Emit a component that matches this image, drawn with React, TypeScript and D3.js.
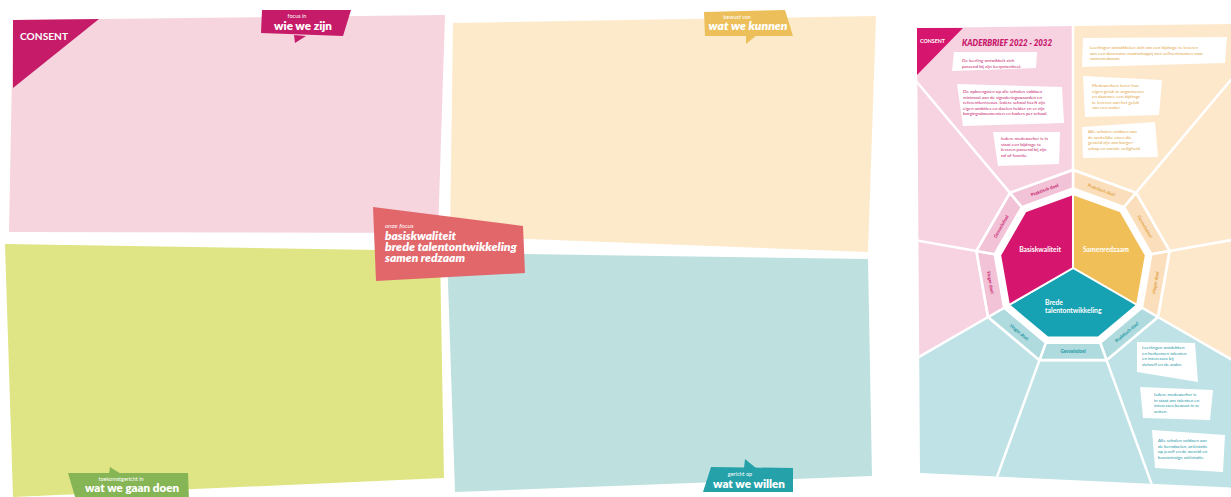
import React from "react";
import * as d3 from "d3";

const W = 1231;
const H = 497;
const FONT = "Lato, 'Open Sans', sans-serif";

// ---------------- left board: content ----------------
const brand = "CONSENT";
const quadrantFills = ["#f6d5df", "#fdeacb", "#dfe584", "#bee1df"];
const tagSmallText = ["focus in", "bewust van", "toekomstgericht in", "gericht op"];
const tagBigText = ["wie we zijn", "wat we kunnen", "wat we gaan doen", "wat we willen"];
const tagFills = ["#c51b69", "#ecbf5a", "#86b555", "#25a2a9"];
const tagItalic = [false, true, false, false];
const focusTitle = "onze focus";
const focusLines = ["basiskwaliteit", "brede talentontwikkeling", "samen redzaam"];
const focusFill = "#e2676b";

// ---------------- left board: layout ----------------
type P = [number, number];
const quadrantShapes: P[][] = [
  [[13, 20], [445, 15], [438, 233], [9, 232]],
  [[453, 23], [876, 16], [868, 252], [450, 236]],
  [[5, 244], [440, 251], [444, 478], [13, 497]],
  [[447, 253], [868, 259], [872, 476], [455, 492]],
];
const tagShapes: P[][] = [
  [[262, 10], [351, 10], [343, 36], [261, 33]],
  [[704, 12], [785, 10], [793, 36], [705, 36]],
  [[68, 473], [188, 473], [189, 500], [76, 500]],
  [[711, 467], [793, 468], [793, 492], [703, 492]],
];
const tagTails: P[][] = [
  [[294, 35], [295, 43], [306, 36]],
  [[746, 35], [746, 44], [757, 35]],
  [[109, 474], [110, 467], [121, 474]],
  [[744, 468], [745, 459], [756, 468]],
];
// [cx small, baseline small, cx big, baseline big, big width]
const tagText: number[][] = [
  [297, 18, 303, 29.5, 58],
  [737, 19, 748, 30, 79],
  [121, 480.5, 132, 492, 94],
  [740, 475.5, 749, 487.5, 72],
];
const focusShape: P[] = [[373, 207], [523, 226], [525, 273], [376, 281]];

// ---------------- right poster: content ----------------
const posterTitle = "KADERBRIEF 2022 - 2032";
const coreNames = [["Samenredzaam"], ["Brede", "talentontwikkeling"], ["Basiskwaliteit"]];
const coreFills = ["#f1bf58", "#17a2b3", "#d6166e"];
const sectorFills = ["#fde8cc", "#bfe2e6", "#f7d3e2"];
const ringFills = ["#fbdfbd", "#afdade", "#f2c3d7"];
const groupTextFills = ["#e2a544", "#1b97a5", "#c8196c"];
const ringLabels = [
  "Praktisch doel", "Gevoelsdoel", "Hoger doel",
  "Praktisch doel", "Gevoelsdoel", "Hoger doel",
  "Hoger doel", "Gevoelsdoel", "Praktisch doel",
];
const boxTexts: string[][] = [
  ["De leerling ontwikkelt zich", "passend bij zijn leerpotentieel."],
  [
    "De opbrengsten op alle scholen voldoen",
    "minimaal aan de signaleringswaarden en",
    "referentieniveaus. Iedere school heeft zijn",
    "eigen ambities en doelen helder en er zijn",
    "borgingsdocumenten en kaders per school.",
  ],
  ["Iedere medewerker is in", "staat een bijdrage te", "leveren passend bij zijn", "rol of functie."],
  [
    "Leerlingen ontwikkelen zich om een bijdrage te leveren",
    "aan een duurzame maatschappij met zelfvertrouwen voor",
    "samenredzaam.",
  ],
  ["Medewerkers leren hun", "eigen geluk te organiseren", "en daarmee een bijdrage", "te leveren aan het geluk", "van een ander."],
  ["Alle scholen voldoen aan", "de wettelijke eisen die", "gesteld zijn aan burger-", "schap en sociale veiligheid."],
  ["Leerlingen ontdekken", "en herkennen talenten", "en interesses bij", "zichzelf en de ander."],
  ["Iedere medewerker is", "in staat om talenten en", "interesses bewust in te", "zetten."],
  ["Alle scholen voldoen aan", "de kerndoelen, oriëntatie", "op jezelf en de wereld en", "kunstzinnige oriëntatie."],
];
const boxGroup = [2, 2, 2, 0, 0, 0, 1, 1, 1];

// ---------------- right poster: layout ----------------
const posterShape: P[] = [[917, 28], [1240, 24], [1240, 488], [920, 473]];
const core = { cx: 1073, cy: 268, rIn: 74, rGap: 79.5, rOut: 98 };
const boxShapes: P[][] = [
  [[954, 52], [1037, 52], [1036, 68], [952, 71]],
  [[957, 84], [1062, 87], [1064, 123], [963, 126]],
  [[993, 132], [1060, 132], [1059, 164], [998, 166]],
  [[1083, 38], [1227, 37], [1225, 63], [1082, 67]],
  [[1083, 76], [1162, 80], [1159, 115], [1085, 117]],
  [[1082, 127], [1155, 122], [1158, 157], [1083, 158]],
  [[1137, 342], [1195, 343], [1198, 382], [1137, 372]],
  [[1140, 387], [1213, 390], [1210, 420], [1143, 418]],
  [[1152, 430], [1225, 435], [1223, 472], [1155, 468]],
];
// first baseline per box
const boxTextAt: P[] = [
  [962, 62], [963, 93], [1001, 140], [1090, 49], [1092, 87],
  [1088, 133], [1142, 349], [1154, 396], [1158, 442],
];

const lineGen = d3.line();
const closed = (pts: P[]) => (lineGen(pts) || "") + "Z";
const rad = (deg: number) => (deg * Math.PI) / 180;
const angleOf = (k: number) => -90 + 40 * k;
const at = (r: number, deg: number): P => [core.cx + r * Math.cos(rad(deg)), core.cy + r * Math.sin(rad(deg))];

export default function App() {
  const ks = d3.range(9);
  const inner = ks.map((k) => at(core.rIn, angleOf(k)));
  const gapV = ks.map((k) => at(core.rGap, angleOf(k)));
  const outer = ks.map((k) => at(core.rOut, angleOf(k)));
  const C: P = [core.cx, core.cy];

  const sectors = [0, 1, 2].map((g) => {
    const a0 = angleOf(3 * g);
    const angs = d3.range(0, 13).map((i) => a0 + i * 10);
    return [C, ...angs.map((a) => at(900, a))] as P[];
  });

  return (
    <svg
      width={W}
      height={H}
      viewBox={`0 0 ${W} ${H}`}
      style={{ position: "absolute", left: 0, top: 0, background: "#ffffff" }}
      fontFamily={FONT}
    >
      <defs>
        <clipPath id="poster">
          <path d={closed(posterShape)} />
        </clipPath>
      </defs>

      {/* ---------- left board ---------- */}
      {quadrantShapes.map((s, i) => (
        <path key={"q" + i} d={closed(s)} fill={quadrantFills[i]} />
      ))}
      <path d={closed([[13, 20], [99, 19], [13, 88]])} fill={tagFills[0]} />
      <text x={20} y={40} fontSize={9} fontWeight={700} fill="#ffffff" textLength={48} lengthAdjust="spacingAndGlyphs">
        {brand}
      </text>

      {tagShapes.map((s, i) => (
        <g key={"t" + i}>
          <path d={closed(s)} fill={tagFills[i]} />
          <path d={closed(tagTails[i])} fill={tagFills[i]} />
          <text x={tagText[i][0]} y={tagText[i][1]} fontSize={5.5} fill="#ffffff" textAnchor="middle">
            {tagSmallText[i]}
          </text>
          <text
            x={tagText[i][2]}
            y={tagText[i][3]}
            fontSize={10.5}
            fontWeight={800}
            fontStyle={tagItalic[i] ? "italic" : "normal"}
            fill="#ffffff"
            textAnchor="middle"
            textLength={tagText[i][4]}
            lengthAdjust="spacingAndGlyphs"
          >
            {tagBigText[i]}
          </text>
        </g>
      ))}

      <path d={closed(focusShape)} fill={focusFill} />
      <text x={385} y={228} fontSize={6.5} fontStyle="italic" fill="#ffffff">
        {focusTitle}
      </text>
      {focusLines.map((t, i) => (
        <text
          key={"f" + i}
          x={385}
          y={240 + i * 11}
          fontSize={11}
          fontWeight={800}
          fontStyle="italic"
          fill="#ffffff"
          textLength={[71, 132, 80][i]}
          lengthAdjust="spacingAndGlyphs"
        >
          {t}
        </text>
      ))}

      {/* ---------- right poster ---------- */}
      <g clipPath="url(#poster)">
        {sectors.map((s, g) => (
          <path key={"s" + g} d={closed(s)} fill={sectorFills[g]} />
        ))}
        {ks.map((k) => {
          const a = outer[k];
          const b = at(900, angleOf(k));
          return <line key={"r" + k} x1={a[0]} y1={a[1]} x2={b[0]} y2={b[1]} stroke="#ffffff" strokeWidth={2.5} />;
        })}
      </g>
      <path d={closed([[917, 28], [963, 28], [917, 75]])} fill={coreFills[2]} />
      <text x={920} y={43} fontSize={5.5} fontWeight={700} fill="#ffffff" textLength={25} lengthAdjust="spacingAndGlyphs">
        {brand}
      </text>
      <text
        x={962}
        y={45.5}
        fontSize={9}
        fontWeight={800}
        fontStyle="italic"
        fill={groupTextFills[2]}
        textLength={90}
        lengthAdjust="spacingAndGlyphs"
      >
        {posterTitle}
      </text>

      {boxShapes.map((s, i) => (
        <g key={"b" + i}>
          <path d={closed(s)} fill="#ffffff" />
          {boxTexts[i].map((t, j) => (
            <text key={j} x={boxTextAt[i][0]} y={boxTextAt[i][1] + j * 5.6} fontSize={4.5} fill={groupTextFills[boxGroup[i]]}>
              {t}
            </text>
          ))}
        </g>
      ))}

      {/* ring */}
      <path d={closed(outer.map((p, k) => at(core.rOut + 1.5, angleOf(k))))} fill="#ffffff" />
      {ks.map((k) => {
        const k2 = (k + 1) % 9;
        const g = Math.floor(k / 3);
        const mid = angleOf(k) + 20;
        const rm = ((core.rGap + core.rOut) / 2) * Math.cos(rad(20));
        const [lx, ly] = at(rm, mid);
        let rot = mid + 90;
        if (rot > 180) rot -= 360;
        if (rot > 90) rot -= 180;
        if (rot < -90) rot += 180;
        return (
          <g key={"ring" + k}>
            <path d={closed([outer[k], outer[k2], gapV[k2], gapV[k]])} fill={ringFills[g]} stroke="#ffffff" strokeWidth={2.5} strokeLinejoin="round" />
            <text
              x={lx}
              y={ly}
              fontSize={4.6}
              fontWeight={700}
              fill={groupTextFills[g]}
              textAnchor="middle"
              dominantBaseline="central"
              transform={`rotate(${rot},${lx},${ly})`}
            >
              {ringLabels[k]}
            </text>
          </g>
        );
      })}

      {/* core */}
      {[0, 1, 2].map((g) => {
        const pts: P[] = [C, inner[3 * g], inner[3 * g + 1], inner[3 * g + 2], inner[(3 * g + 3) % 9]];
        const mid = angleOf(3 * g) + 60;
        const [tx, ty] = at(38, mid);
        const lines = coreNames[g];
        return (
          <g key={"c" + g}>
            <path d={closed(pts)} fill={coreFills[g]} stroke="#ffffff" strokeWidth={2} strokeLinejoin="round" />
            {lines.map((t, j) => (
              <text
                key={j}
                x={lines.length > 1 ? tx - 28 : tx}
                y={ty + (j - (lines.length - 1) / 2) * 8 + 2.5}
                fontSize={6.8}
                fontWeight={700}
                fill="#ffffff"
                textAnchor={lines.length > 1 ? "start" : "middle"}
              >
                {t}
              </text>
            ))}
          </g>
        );
      })}
    </svg>
  );
}
